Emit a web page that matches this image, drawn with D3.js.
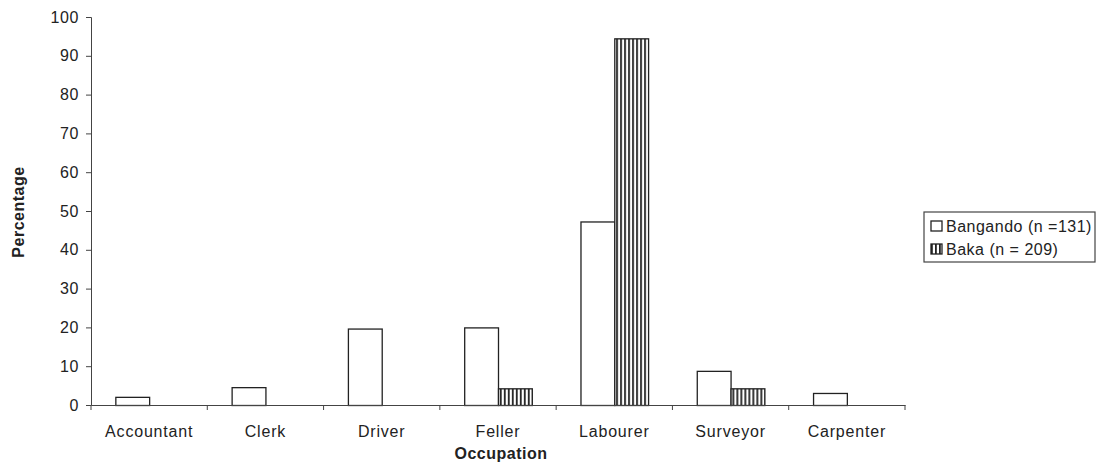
<!DOCTYPE html>
<html>
<head>
<meta charset="utf-8">
<script src="https://cdn.jsdelivr.net/npm/d3@7"></script>
<style>
  body { margin: 0; background: #fff; }
  text { font-family: "Liberation Sans", Arial, sans-serif; fill: #222; }
</style>
</head>
<body>
<div class="container"></div>
<script>
// data
const occupations = ["Accountant", "Clerk", "Driver", "Feller", "Labourer", "Surveyor", "Carpenter"]
const bangando = [2.1, 4.6, 19.7, 20.0, 47.3, 8.8, 3.1]
const baka = [0, 0, 0, 4.3, 94.5, 4.3, 0]
const seriesNames = ["Bangando (n =131)", "Baka (n = 209)"]
const yTicks = [0, 10, 20, 30, 40, 50, 60, 70, 80, 90, 100]

const WIDTH = 1099, HEIGHT = 469
const margin = { left: 91, top: 17, right: 194, bottom: 64 }
const ink = "#222"

const svg = d3.select(".container")
    .append("svg")
    .attr("width", WIDTH)
    .attr("height", HEIGHT)

// stripe pattern for Baka
const defs = svg.append("defs")
const pat = defs.append("pattern")
    .attr("id", "stripes")
    .attr("patternUnits", "userSpaceOnUse")
    .attr("width", 4)
    .attr("height", 4)
pat.append("rect").attr("width", 4).attr("height", 4).attr("fill", "#fff")
pat.append("rect").attr("x", 0).attr("width", 1.8).attr("height", 4).attr("fill", ink)

const x = d3.scaleBand()
    .domain(occupations)
    .range([margin.left, WIDTH - margin.right])

const inner = d3.scaleBand()
    .domain([0, 1])
    .range([0, x.bandwidth()])
    .paddingOuter(0.72)
    .paddingInner(0)

const y = d3.scaleLinear()
    .domain([0, 100])
    .range([HEIGHT - margin.bottom, margin.top])

// bars
const rows = occupations.map((o, i) => ({ occ: o, vals: [bangando[i], baka[i]] }))
const groups = svg.append("g").selectAll("g")
    .data(rows)
    .join("g")
    .attr("transform", d => `translate(${x(d.occ)},0)`)

groups.selectAll("rect")
    .data(d => d.vals.map((v, k) => ({ v, k })).filter(e => e.v > 0))
    .join("rect")
    .attr("x", e => inner(e.k) + 0.5)
    .attr("y", e => y(e.v) + 0.5)
    .attr("width", inner.bandwidth())
    .attr("height", e => y(0) - y(e.v))
    .attr("fill", e => e.k == 0 ? "#fff" : "url(#stripes)")
    .attr("stroke", ink)
    .attr("stroke-width", 1.3)

// y axis
const yAxis = svg.append("g")
    .attr("transform", `translate(${margin.left},0)`)
    .call(d3.axisLeft(y).tickValues(yTicks).tickSize(5).tickPadding(7))
yAxis.selectAll("text").style("font-size", "16px").style("letter-spacing", "0.6px").attr("fill", ink)
yAxis.selectAll("line, path").attr("stroke", "#444")

// x axis
const xAxis = svg.append("g")
    .attr("transform", `translate(0,${y(0)})`)
    .call(d3.axisBottom(x).tickSize(0).tickPadding(21))
xAxis.select("path").attr("stroke", "#444")
xAxis.selectAll("text").style("font-size", "16px").style("letter-spacing", "0.8px").attr("fill", ink)
// ticks between categories
xAxis.selectAll(".sep")
    .data(occupations.concat(["end"]))
    .join("line")
    .attr("class", "sep")
    .attr("x1", (d, i) => i < occupations.length ? x(d) : x(occupations[i - 1]) + x.bandwidth())
    .attr("x2", (d, i) => i < occupations.length ? x(d) : x(occupations[i - 1]) + x.bandwidth())
    .attr("y1", 0)
    .attr("y2", 5)
    .attr("stroke", "#444")

// axis titles
svg.append("text")
    .attr("x", 501)
    .attr("y", 459)
    .attr("text-anchor", "middle")
    .style("font-size", "16px")
    .style("letter-spacing", "0.5px")
    .style("font-weight", "bold")
    .text("Occupation")

svg.append("text")
    .attr("transform", `translate(24,212) rotate(-90)`)
    .attr("text-anchor", "middle")
    .style("font-size", "16px")
    .style("letter-spacing", "0.5px")
    .style("font-weight", "bold")
    .text("Percentage")

// legend
const leyenda = svg.append("g").attr("transform", "translate(924,212)")
leyenda.append("rect")
    .attr("width", 171)
    .attr("height", 50)
    .attr("fill", "#fff")
    .attr("stroke", "#444")
    .attr("stroke-width", 1.2)

const items = leyenda.selectAll(".item")
    .data(seriesNames)
    .join("g")
    .attr("class", "item")
    .attr("transform", (d, i) => `translate(7,${9 + i * 23})`)
items.append("rect")
    .attr("width", 11)
    .attr("height", 10)
    .attr("fill", (d, i) => i == 0 ? "#fff" : "url(#stripes)")
    .attr("stroke", ink)
    .attr("stroke-width", 1.3)
items.append("text")
    .attr("x", 15)
    .attr("y", 11)
    .style("font-size", "16px")
    .style("letter-spacing", "0.5px")
    .text(d => d)
</script>
</body>
</html>
